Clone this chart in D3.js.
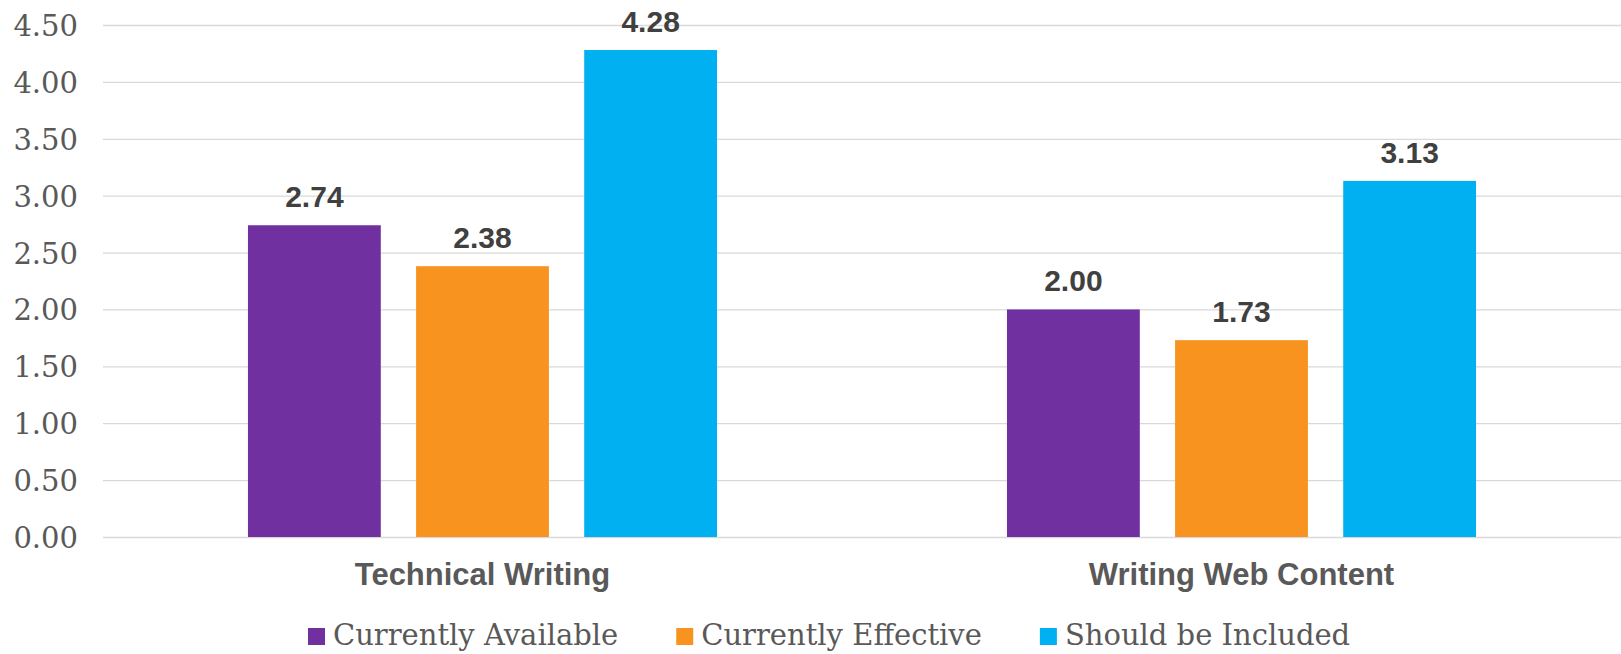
<!DOCTYPE html>
<html>
<head>
<meta charset="utf-8">
<script src="https://cdn.jsdelivr.net/npm/d3@7"></script>
<style>
  html, body { margin: 0; padding: 0; background: #ffffff; }
  svg { display: block; }
</style>
</head>
<body>
<svg id="chart" width="1621" height="654"></svg>
<script>
// Survey scores by course topic
const categories = ["Technical Writing", "Writing Web Content"];
const seriesNames = ["Currently Available", "Currently Effective", "Should be Included"];
const currentlyAvailable = [2.74, 2.00];
const currentlyEffective = [2.38, 1.73];
const shouldBeIncluded = [4.28, 3.13];
const yTicks = [0, 0.5, 1, 1.5, 2, 2.5, 3, 3.5, 4, 4.5];
const seriesColors = ["#7030A0", "#F7931E", "#00B0F0"];

const seriesValues = [currentlyAvailable, currentlyEffective, shouldBeIncluded];
const rows = categories.map((c, i) => ({
  category: c,
  values: seriesNames.map((s, j) => ({ series: s, value: seriesValues[j][i], color: seriesColors[j] }))
}));

const svg = d3.select("#chart");
const plot = { left: 103, right: 1621, top: 25, bottom: 537 };

const x0 = d3.scaleBand()
  .domain(categories)
  .range([plot.left, plot.right])
  .paddingInner(0.382)
  .paddingOuter(0.191);

const x1 = d3.scaleBand()
  .domain(seriesNames)
  .range([0, x0.bandwidth()])
  .paddingInner(0.21)
  .paddingOuter(0);

const y = d3.scaleLinear().domain([0, 4.5]).range([plot.bottom, plot.top]);

// horizontal gridlines with tick labels on the left
const yAxis = d3.axisLeft(y)
  .tickValues(yTicks)
  .tickSize(-(plot.right - plot.left))
  .tickPadding(25)
  .tickFormat(d3.format(".2f"));

const gy = svg.append("g")
  .attr("transform", `translate(${plot.left},0)`)
  .call(yAxis);
gy.select(".domain").remove();
gy.selectAll(".tick line").attr("stroke", "#d9d9d9").attr("stroke-width", 1.3);
gy.selectAll(".tick text")
  .attr("fill", "#595959")
  .attr("font-family", "'DejaVu Serif', serif")
  .attr("font-size", 29)
  .attr("dy", "0.36em");

// grouped bars
const groups = svg.append("g").selectAll("g")
  .data(rows)
  .join("g")
  .attr("transform", d => `translate(${x0(d.category)},0)`);

groups.selectAll("rect")
  .data(d => d.values)
  .join("rect")
  .attr("x", d => x1(d.series))
  .attr("y", d => y(d.value))
  .attr("width", x1.bandwidth())
  .attr("height", d => y(0) - y(d.value))
  .attr("fill", d => d.color);

// value labels above bars
groups.selectAll("text")
  .data(d => d.values)
  .join("text")
  .attr("x", d => x1(d.series) + x1.bandwidth() / 2)
  .attr("y", d => y(d.value) - 18)
  .attr("text-anchor", "middle")
  .attr("fill", "#404040")
  .attr("font-family", "'Liberation Sans', Arial, sans-serif")
  .attr("font-weight", "bold")
  .attr("font-size", 30)
  .text(d => d3.format(".2f")(d.value));

// category axis labels
const xAxis = d3.axisBottom(x0).tickSize(0).tickPadding(0);
const gx = svg.append("g")
  .attr("transform", `translate(0,${plot.bottom})`)
  .call(xAxis);
gx.select(".domain").remove();
gx.selectAll(".tick text")
  .attr("dy", null)
  .attr("y", 48)
  .attr("fill", "#595959")
  .attr("font-family", "'Liberation Sans', Arial, sans-serif")
  .attr("font-weight", "bold")
  .attr("font-size", 31);

// legend
const legend = svg.append("g").attr("transform", "translate(308,0)");
let offset = 0;
seriesNames.forEach((name, i) => {
  const item = legend.append("g").attr("transform", `translate(${offset},0)`);
  item.append("rect")
    .attr("x", 0).attr("y", 628)
    .attr("width", 17).attr("height", 17)
    .attr("fill", seriesColors[i]);
  const t = item.append("text")
    .attr("x", 25).attr("y", 645)
    .attr("fill", "#595959")
    .attr("font-family", "'DejaVu Serif', serif")
    .attr("font-size", 29)
    .text(name);
  offset += 25 + t.node().getComputedTextLength() + 58;
});
</script>
</body>
</html>
